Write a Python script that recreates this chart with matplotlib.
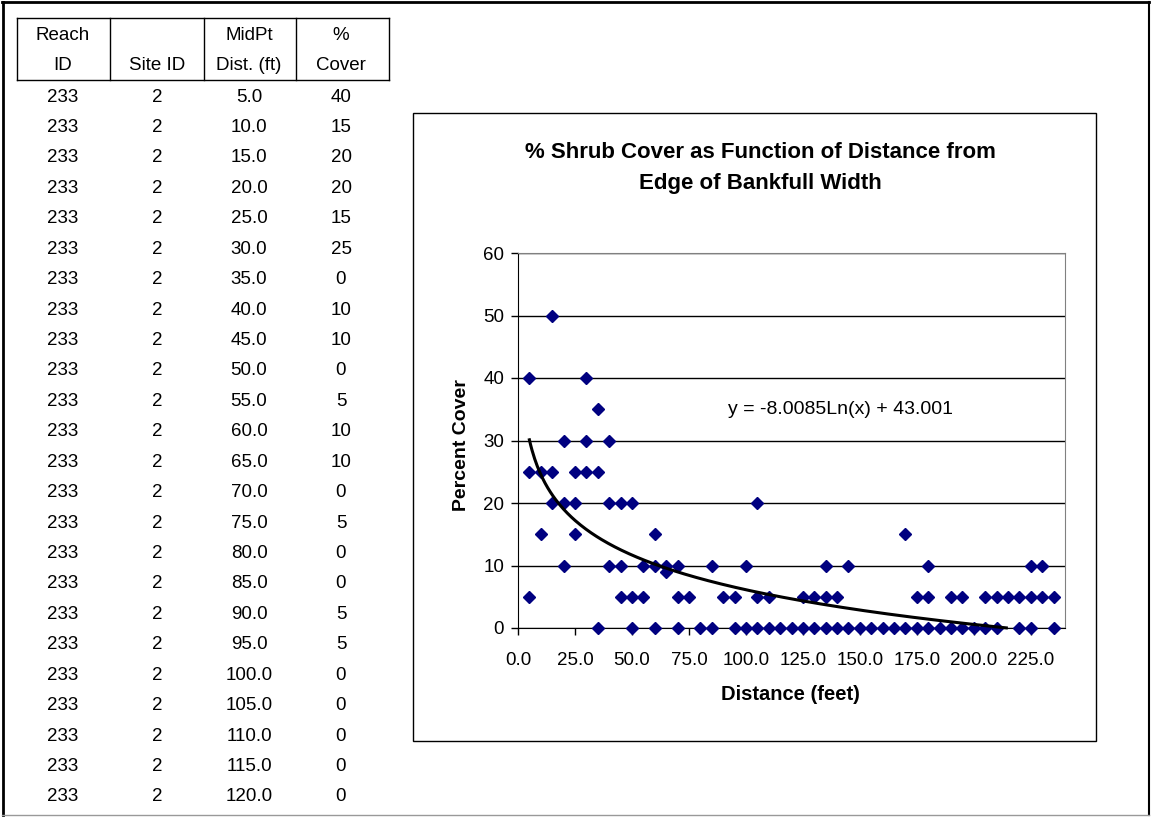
import numpy as np
import matplotlib
matplotlib.use("Agg")
import matplotlib.pyplot as plt
from matplotlib.lines import Line2D
from matplotlib.patches import Rectangle

# sheet on the left: one site's rows
reach_id = [233] * 24
site_id = [2] * 24
table_dist = [5.0, 10.0, 15.0, 20.0, 25.0, 30.0, 35.0, 40.0, 45.0, 50.0, 55.0, 60.0,
              65.0, 70.0, 75.0, 80.0, 85.0, 90.0, 95.0, 100.0, 105.0, 110.0, 115.0, 120.0]
table_cover = [40, 15, 20, 20, 15, 25, 0, 10, 10, 0, 5, 10,
               10, 0, 5, 0, 0, 5, 5, 0, 0, 0, 0, 0]

# scatter points, grouped by % cover level (distance in feet)
x_at_50 = [15]
x_at_40 = [5, 30]
x_at_35 = [35]
x_at_30 = [20, 30, 40]
x_at_25 = [5, 10, 15, 25, 30, 35]
x_at_20 = [15, 20, 25, 40, 45, 50, 105]
x_at_15 = [10, 25, 60, 170]
x_at_10 = [20, 40, 45, 55, 60, 65, 70, 85, 100, 135, 145, 180, 225, 230]
x_at_9 = [65]
x_at_5 = [5, 45, 50, 55, 70, 75, 90, 95, 105, 110, 125, 130, 135, 140, 175, 180,
          190, 195, 205, 210, 215, 220, 225, 230, 235]
x_at_0 = [35, 50, 60, 70, 80, 85, 95, 100, 105, 110, 115, 120, 125, 130, 135, 140,
          145, 150, 155, 160, 165, 170, 175, 180, 185, 190, 195, 200, 205, 210,
          220, 225, 235]

levels = [(50, x_at_50), (40, x_at_40), (35, x_at_35), (30, x_at_30), (25, x_at_25),
          (20, x_at_20), (15, x_at_15), (10, x_at_10), (9, x_at_9), (5, x_at_5), (0, x_at_0)]
dist = []
cover = []
for lv, xs in levels:
    dist += xs
    cover += [lv] * len(xs)

# log trendline coefficients from the chart label
coef_a = -8.0085
coef_b = 43.001

W, H = 1151, 817
fig = plt.figure(figsize=(W / 100, H / 100), dpi=100)
fig.patch.set_facecolor("white")


def fx(px):
    return px / W


def fy(py):
    return 1 - py / H


def hline(x0, x1, y, **kw):
    fig.add_artist(Line2D([fx(x0), fx(x1)], [fy(y), fy(y)], **kw))


def vline(x, y0, y1, **kw):
    fig.add_artist(Line2D([fx(x), fx(x)], [fy(y0), fy(y1)], **kw))


# outer border of the screenshot
hline(2, 1149, 2, color="black", lw=2)
vline(3, 2, 815, color="black", lw=2)
vline(1149, 2, 815, color="black", lw=1.5)
hline(2, 1149, 815, color="#999999", lw=1)

font = ["Liberation Sans", "DejaVu Sans"]

# table header box
hline(17, 389, 18, color="black", lw=1)
hline(17, 389, 80, color="black", lw=1)
for xv in [17, 110, 204, 296, 389]:
    vline(xv, 18, 80, color="black", lw=1)

col_x = [63, 157, 249, 341]
head1 = ["Reach", "", "MidPt", "%"]
head2 = ["ID", "Site ID", "Dist. (ft)", "Cover"]
for cx, t1, t2 in zip(col_x, head1, head2):
    fig.text(fx(cx), fy(35), t1, ha="center", va="center", fontsize=13.5, family=font)
    fig.text(fx(cx), fy(65), t2, ha="center", va="center", fontsize=13.5, family=font)

for i in range(len(table_dist)):
    yy = 97 + i * 30.43
    row = [str(reach_id[i]), str(site_id[i]), "%.1f" % table_dist[i], str(table_cover[i])]
    for cx, t in zip(col_x, row):
        fig.text(fx(cx), fy(yy), t, ha="center", va="center", fontsize=13.5, family=font)

# chart frame
fig.add_artist(Rectangle((fx(413), fy(741)), fx(1096) - fx(413), fy(113) - fy(741),
                         transform=fig.transFigure, fill=False, ec="black", lw=1))

fig.text(fx(760), fy(153), "% Shrub Cover as Function of Distance from", ha="center",
         va="center", fontsize=16, fontweight="bold", family=font)
fig.text(fx(760), fy(184), "Edge of Bankfull Width", ha="center",
         va="center", fontsize=16, fontweight="bold", family=font)

ax = fig.add_axes([fx(518), fy(628), fx(1065) - fx(518), fy(253) - fy(628)])
ax.set_xlim(0, 240)
ax.set_ylim(0, 60)
ax.set_xticks(np.arange(0, 226, 25))
ax.set_xticklabels(["%.1f" % v for v in np.arange(0, 226, 25)])
ax.set_yticks(np.arange(0, 61, 10))
ax.yaxis.grid(True, color="black", lw=1)
ax.set_axisbelow(True)
for s in ["top", "right"]:
    ax.spines[s].set_color("#808080")
for s in ["left", "bottom"]:
    ax.spines[s].set_color("black")
ax.tick_params(direction="out", length=5, width=1, labelsize=13.5, pad=5)
ax.tick_params(axis="x", pad=12)
for lab in ax.get_xticklabels() + ax.get_yticklabels():
    lab.set_family(font)

ax.plot(dist, cover, linestyle="none", marker="D", markersize=5.8,
        color="#000080", mec="#000080", zorder=3, clip_on=False)

tx = np.linspace(min(dist), max(dist), 400)
ty = coef_a * np.log(tx) + coef_b
keep = ty >= 0
ax.plot(tx[keep], ty[keep], color="black", lw=2.2, zorder=4, clip_on=False)

ax.text(92, 34.9, "y = -8.0085Ln(x) + 43.001", ha="left", va="center",
        fontsize=14, family=font)

fig.text(fx(461), fy(445), "Percent Cover", rotation=90, ha="center", va="center",
         fontsize=14, fontweight="bold", family=font)
fig.text(fx(790), fy(694), "Distance (feet)", ha="center", va="center",
         fontsize=14.5, fontweight="bold", family=font)

fig.savefig("out.png", dpi=100)
